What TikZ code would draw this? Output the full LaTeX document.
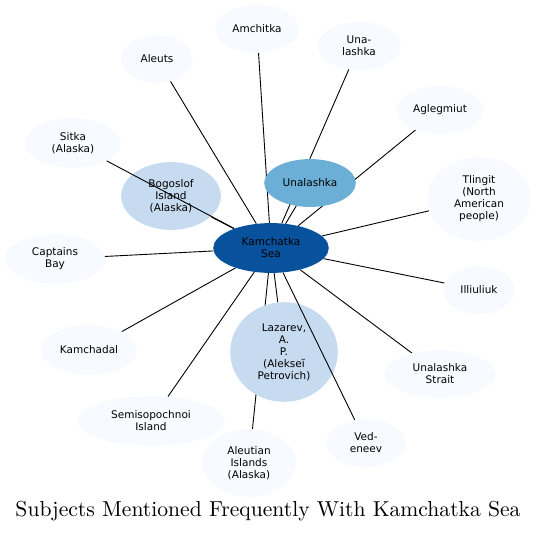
\documentclass[tikz,border=0pt]{standalone}
\usepackage{fontspec}
\usepackage{tikz}
\usetikzlibrary{shapes.geometric,backgrounds}
\newfontfamily\labelfont{DejaVu Sans}
\definecolor{seadeep}{HTML}{08519C}
\definecolor{seamid}{HTML}{6BAED6}
\definecolor{seapale}{HTML}{C6DBEF}
\definecolor{seafaint}{HTML}{F7FBFF}

\begin{document}
\begin{tikzpicture}[x=1bp,y=-1bp]
			\tikzstyle{every node}+=[inner sep=0pt]
			\tikzstyle{topic}=[ellipse, fill=seafaint, align=center, font={\labelfont\fontsize{10.5bp}{12bp}\selectfont}]
			\tikzstyle{link}=[black, line width=0.9pt]
			\useasboundingbox (0,0) rectangle (537,533);
			% inner ring
			\node [topic, fill=seadeep, minimum width=116, minimum height=50] (kam) at (271,248) {Kamchatka\\Sea};
			\node [topic, fill=seamid, minimum width=92, minimum height=48] (unal) at (310,183) {Unalashka};
			\node [topic, fill=seapale, minimum width=100, minimum height=68] (bogo) at (171,196) {Bogoslof\\Island\\(Alaska)};
			\node [topic, fill=seapale, minimum width=108, minimum height=100] (laza) at (284,352) {Lazarev,\\A.\\P.\\(Alekseĭ\\Petrovich)};
			% outer ring
			\node [topic, minimum width=84, minimum height=48] (amch) at (257,29) {Amchitka};
			\node [topic, minimum width=72, minimum height=48] (aleu) at (157,59) {Aleuts};
			\node [topic, minimum width=84, minimum height=48] (unah) at (359,46) {Una-\\lashka};
			\node [topic, minimum width=88, minimum height=48] (agle) at (440,110) {Aglegmiut};
			\node [topic, minimum width=104, minimum height=84] (tlin) at (479,199) {Tlingit\\(North\\American\\people)};
			\node [topic, minimum width=96, minimum height=50] (sitk) at (73,143) {Sitka\\(Alaska)};
			\node [topic, minimum width=100, minimum height=50] (capt) at (55,259) {Captains\\Bay};
			\node [topic, minimum width=72, minimum height=48] (illi) at (479,290) {Illiuliuk};
			\node [topic, minimum width=96, minimum height=50] (kmdl) at (89,350) {Kamchadal};
			\node [topic, minimum width=112, minimum height=48] (stra) at (440,374) {Unalashka\\Strait};
			\node [topic, minimum width=148, minimum height=50] (semi) at (151,421) {Semisopochnoi\\Island};
			\node [topic, minimum width=80, minimum height=48] (vede) at (366,443) {Ved-\\eneev};
			\node [topic, minimum width=94, minimum height=68] (aisl) at (249,463) {Aleutian\\Islands\\(Alaska)};
			\begin{pgfonlayer}{background}
				\draw [link] (kam) -- (unal);
				\draw [link] (kam) -- (bogo);
				\draw [link] (kam) -- (laza);
				\draw [link] (kam) -- (amch);
				\draw [link] (kam) -- (aleu);
				\draw [link] (kam) -- (unah);
				\draw [link] (kam) -- (agle);
				\draw [link] (kam) -- (tlin);
				\draw [link] (kam) -- (capt);
				\draw [link] (kam) -- (illi);
				\draw [link] (kam) -- (kmdl);
				\draw [link] (kam) -- (stra);
				\draw [link] (kam) -- (semi);
				\draw [link] (kam) -- (aisl);
			\end{pgfonlayer}
			\draw [link] (kam) -- (sitk);
			\draw [link] (kam) -- (vede);
			\node (title) at (268,511) {\resizebox{505bp}{!}{Subjects Mentioned Frequently With Kamchatka Sea}};
		\end{tikzpicture}
\end{document}
